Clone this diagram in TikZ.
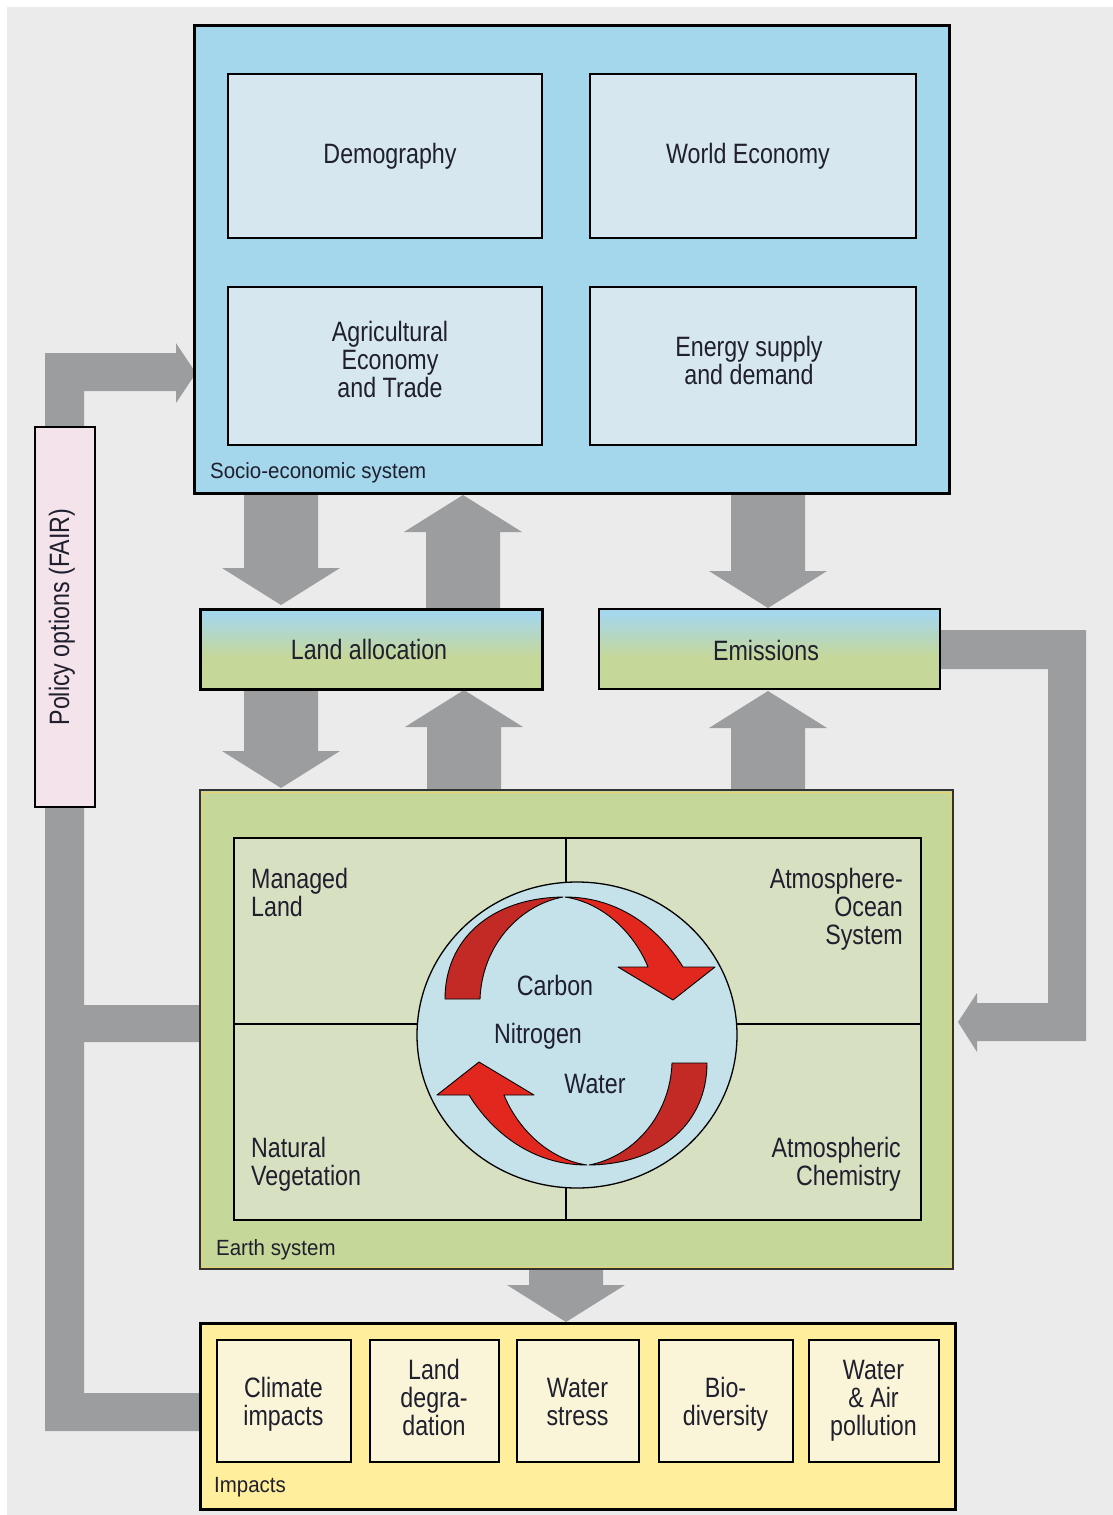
\documentclass[tikz,border=0pt]{standalone}
\usepackage{fontspec}
\setmainfont{Liberation Sans}
\newfontfamily\bigf{Liberation Sans}[FakeStretch=0.83]
\newfontfamily\smlf{Liberation Sans}[FakeStretch=0.93]
\usetikzlibrary{calc,shapes.geometric}
\definecolor{bggray}{HTML}{EBEBEB}
\definecolor{socioc}{HTML}{A5D7EC}
\definecolor{socioin}{HTML}{D7E7F0}
\definecolor{earthc}{HTML}{C5D799}
\definecolor{earthin}{HTML}{D8E0C2}
\definecolor{circc}{HTML}{C5E1EA}
\definecolor{policyc}{HTML}{F5E3EB}
\definecolor{impc}{HTML}{FFEE9B}
\definecolor{impin}{HTML}{FAF5D8}
\definecolor{garrow}{HTML}{9C9D9F}
\definecolor{redb}{HTML}{E2271F}
\definecolor{redd}{HTML}{C32A26}
\definecolor{txtc}{HTML}{1F1F2E}
\definecolor{yelline}{HTML}{EAD36A}
\pgfdeclareverticalshading{landgrad}{100bp}{color(0bp)=(earthc); color(25bp)=(earthc); color(45bp)=(earthc); color(72bp)=(socioc); color(75bp)=(socioc); color(100bp)=(socioc)}
\newcommand{\bx}[6]{\node[#2, anchor=north west, minimum width={(#5)-(#3)}, minimum height={(#6)-(#4)}, inner sep=0pt, outer sep=0pt] (#1) at (#3,#4) {};}
\begin{document}
\begin{tikzpicture}[x=1pt,y=-1pt,
  txt/.style={font=\bigf\fontsize{28}{28}\selectfont, text=txtc, inner sep=0pt, align=center},
  lbl/.style={font=\smlf\fontsize{22}{22}\selectfont, text=txtc, inner sep=0pt, anchor=base west},
  thinbox/.style={draw=black, line width=1.5pt},
  thickbox/.style={draw=black, line width=3pt},
  pics/vdown/.style={code={\fill[garrow] (-37,-#1) -- (37,-#1) -- (37,-37) -- (59,-37) -- (0,0) -- (-59,-37) -- (-37,-37) -- cycle;}},
  pics/vup/.style={code={\fill[garrow] (-37,#1) -- (37,#1) -- (37,37) -- (59,37) -- (0,0) -- (-59,37) -- (-37,37) -- cycle;}}
]
\useasboundingbox (0,0) rectangle (1113,1515);
\fill[white] (0,0) rectangle (1113,1515);
\fill[bggray] (7,7) rectangle (1113,1515);

% ---- grey block arrows ----
\pic at (281,605) {vdown=112};
\pic at (463,495) {vup=113};
\pic at (281,788) {vdown=98};
\pic at (464,690) {vup=99};
\pic at (768,608) {vdown=115};
\pic at (768,691) {vup=98};
\pic at (566,1322) {vdown=54};
% policy loop
\fill[garrow] (45,430) -- (45,353) -- (176,353) -- (176,343) -- (196,373) -- (176,403) -- (176,391) -- (84,391) -- (84,430) -- cycle;
\fill[garrow] (45,805) -- (45,1431) -- (200,1431) -- (200,1393) -- (84,1393) -- (84,1042) -- (200,1042) -- (200,1005) -- (84,1005) -- (84,805) -- cycle;
% emissions feedback
\fill[garrow] (938,630) -- (1086,630) -- (1086,1041) -- (977,1041) -- (977,1052) -- (958,1022) -- (977,993) -- (977,1003) -- (1048,1003) -- (1048,669) -- (938,669) -- cycle;

% ---- socio-economic system ----
\bx{socio}{thickbox, fill=socioc}{194}{25}{949}{493}
\bx{demog}{thinbox, fill=socioin}{228}{74}{542}{238}
\bx{weco}{thinbox, fill=socioin}{590}{74}{916}{238}
\bx{agri}{thinbox, fill=socioin}{228}{287}{542}{445}
\bx{energy}{thinbox, fill=socioin}{590}{287}{916}{445}
\node[txt, anchor=base] at (390,163) {Demography};
\node[txt, anchor=base] at (748,163) {World Economy};
\node[txt, anchor=base] at (390,397) {Agricultural\\Economy\\and Trade};
\node[txt, anchor=base] at (749,384) {Energy supply\\and demand};
\node[lbl] at (210,478) {Socio-economic system};

% ---- land allocation / emissions ----
\bx{land}{thickbox, shading=landgrad}{200}{609}{542}{689}
\bx{emis}{thinbox, shading=landgrad}{599}{609}{940}{689}
\node[txt, anchor=base] at (369,659) {Land allocation};
\node[txt, anchor=base] at (766,660) {Emissions};

% ---- policy ----
\bx{policy}{thinbox, fill=policyc}{35}{427}{95}{807}
\node[txt, rotate=90, anchor=base] at (69,617) {Policy options (FAIR)};

% ---- earth system ----
\bx{earth}{draw=black!80, line width=1.5pt, fill=earthc}{200}{790}{953}{1269}
\draw[yelline, line width=1pt] (202,792) rectangle (951,1267);
\bx{earthq}{thinbox, line width=1.3pt, fill=earthin}{234}{838}{921}{1220}
\draw[black, line width=1.3pt] (566,838) -- (566,1220);
\draw[black, line width=1.3pt] (234,1024) -- (921,1024);
\node[draw=black, line width=1.3pt, fill=circc, ellipse, minimum width=320pt, minimum height=306pt, inner sep=0pt] (cyc) at (577,1035) {};
\foreach \r in {0,180}{
\begin{scope}[rotate around={\r:(576,1031)}]
\filldraw[fill=redd, draw=black, line width=0.9pt, line join=round] (445,999) .. controls (445,940) and (490,898) .. (563,897) .. controls (520,905) and (482,945) .. (480,999) -- cycle;
\filldraw[fill=redb, draw=black, line width=0.9pt, line join=round] (565,897) .. controls (620,897) and (660,930) .. (683,967) -- (715,967) -- (673,1000) -- (618,967) -- (648,967) .. controls (635,935) and (605,903) .. (565,897) -- cycle;
\end{scope}}
\node[txt, anchor=base] at (555,995) {Carbon};
\node[txt, anchor=base] at (538,1043) {Nitrogen};
\node[txt, anchor=base] at (595,1093) {Water};
\node[txt, anchor=base west, align=left] at (251,916) {Managed\\Land};
\node[txt, anchor=base east, align=right] at (903,944) {Atmosphere-\\Ocean\\System};
\node[txt, anchor=base west, align=left] at (251,1185) {Natural\\Vegetation};
\node[txt, anchor=base east, align=right] at (901,1185) {Atmospheric\\Chemistry};
\node[lbl] at (216,1255) {Earth system};

% ---- impacts ----
\bx{impacts}{thickbox, fill=impc}{200}{1323}{955}{1509}
\bx{imp1}{thinbox, fill=impin}{217}{1340}{351}{1462}
\bx{imp2}{thinbox, fill=impin}{370}{1340}{499}{1462}
\bx{imp3}{thinbox, fill=impin}{517}{1340}{639}{1462}
\bx{imp4}{thinbox, fill=impin}{659}{1340}{793}{1462}
\bx{imp5}{thinbox, fill=impin}{809}{1340}{939}{1462}
\node[txt, anchor=base] at (283.5,1425) {Climate\\impacts};
\node[txt, anchor=base] at (434,1435) {Land\\degra-\\dation};
\node[txt, anchor=base] at (577.5,1425) {Water\\stress};
\node[txt, anchor=base] at (725.5,1425) {Bio-\\diversity};
\node[txt, anchor=base] at (873.5,1435) {Water\\\& Air\\pollution};
\node[lbl] at (214,1492) {Impacts};
\end{tikzpicture}
\end{document}
